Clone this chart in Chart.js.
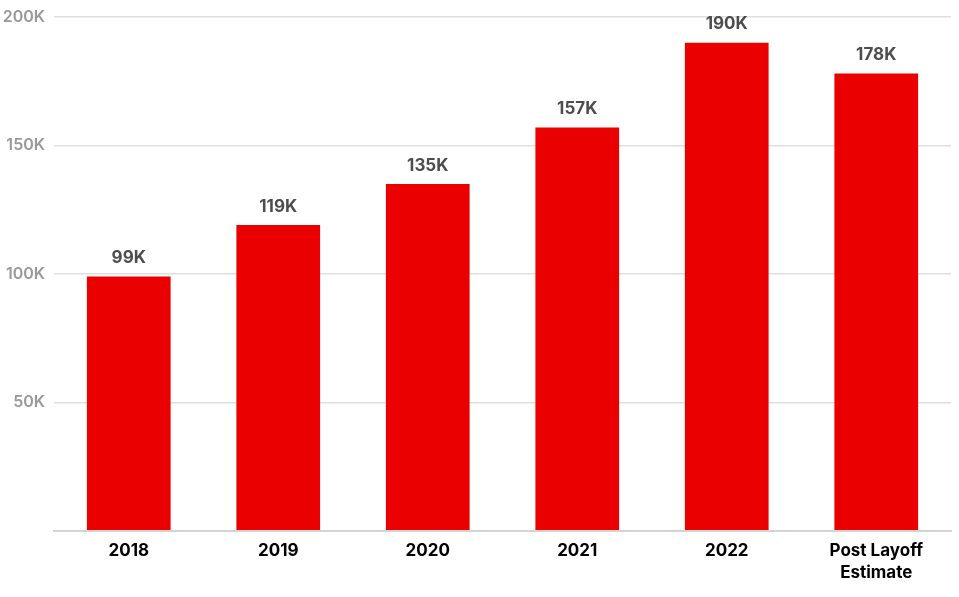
<!DOCTYPE html>
<html>
<head>
<meta charset="utf-8">
<script src="https://cdn.jsdelivr.net/npm/chart.js@4"></script>
<style>
  html, body { margin: 0; padding: 0; background: #fff; }
  #wrap { width: 959px; height: 597px; }
</style>
</head>
<body>
<div id="wrap"><canvas id="chart"></canvas></div>
<script>
const years = ["2018", "2019", "2020", "2021", "2022", ["Post Layoff", "Estimate"]];
const employees = [99, 119, 135, 157, 190, 178]; // thousands
const yTicks = [0, 50, 100, 150, 200];

// value labels above the bars
const barLabels = {
    id: 'barLabels',
    afterDatasetsDraw(chart) {
        const ctx = chart.ctx;
        const meta = chart.getDatasetMeta(0);
        ctx.save();
        ctx.font = 'bold 17px Inter';
        ctx.fillStyle = '#4d4d4d';
        ctx.textAlign = 'center';
        ctx.textBaseline = 'bottom';
        meta.data.forEach((bar, i) => {
            ctx.fillText(employees[i] + 'K', bar.x, bar.y - 10);
        });
        ctx.restore();
    }
};

new Chart(document.getElementById("chart"), {
    type: 'bar',
    data: {
        labels: years,
        datasets: [{
            data: employees,
            backgroundColor: '#eb0000',
            barPercentage: 0.56,
            categoryPercentage: 1
        }]
    },
    options: {
        responsive: true,
        maintainAspectRatio: false,
        animation: false,
        layout: { padding: { top: 0, right: 8, left: 0, bottom: 12 } },
        plugins: {
            legend: { display: false },
            tooltip: { enabled: false }
        },
        scales: {
            x: {
                grid: { display: false },
                border: { display: true, color: '#d4d4d4', width: 2 },
                ticks: {
                    color: '#000',
                    font: { family: 'Inter', weight: 'bold', size: 17, lineHeight: 1.3 },
                    padding: 1,
                    maxRotation: 0
                }
            },
            y: {
                min: 0,
                max: 200,
                afterBuildTicks(axis) {
                    axis.ticks = yTicks.map(v => ({ value: v }));
                },
                afterFit(axis) {
                    axis.width = 54;
                },
                grid: { color: '#dde0e0', lineWidth: 1.5, drawTicks: false },
                border: { display: false },
                ticks: {
                    color: '#999',
                    font: { family: 'Inter', weight: '600', size: 16, lineHeight: 1 },
                    padding: 9,
                    callback: v => v === 0 ? '' : v + 'K'
                }
            }
        }
    },
    plugins: [barLabels]
});
</script>
</body>
</html>
